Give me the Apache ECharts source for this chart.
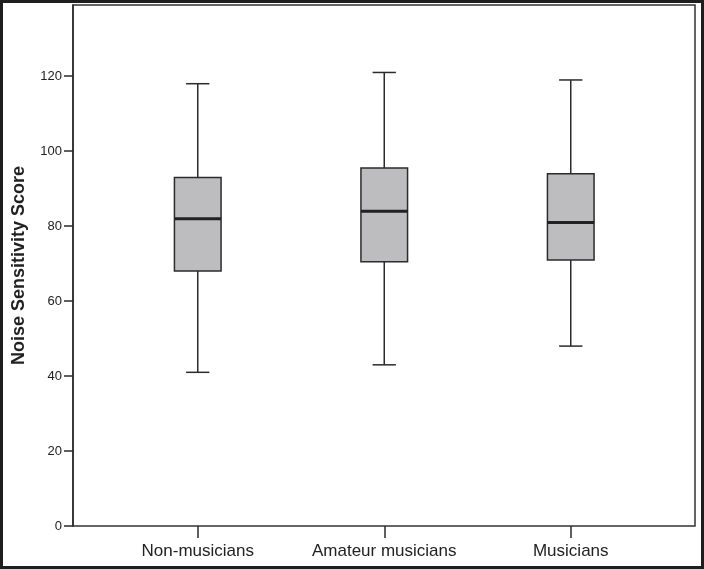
<!DOCTYPE html>
<html>
<head>
<meta charset="utf-8">
<script src="https://cdn.jsdelivr.net/npm/echarts@6/dist/echarts.min.js"></script>
<style>
html,body{margin:0;padding:0;background:#fff;}
#chart{width:704px;height:569px;}
</style>
</head>
<body>
<div id="chart"></div>
<script>
// Data
const categories = ['Non-musicians', 'Amateur musicians', 'Musicians'];
const minValues = [41, 43, 48];
const q1Values = [68, 70.5, 71];
const medianValues = [82, 84, 81];
const q3Values = [93, 95.5, 94];
const maxValues = [118, 121, 119];
const yTicks = [0, 20, 40, 60, 80, 100, 120];
const yTitle = 'Noise Sensitivity Score';

const boxData = categories.map((c, i) => [i, minValues[i], q1Values[i], medianValues[i], q3Values[i], maxValues[i]]);

const FONT = '"Liberation Sans", Arial, sans-serif';
const LINE = '#2b2b2b';

const chart = echarts.init(document.getElementById('chart'), null, {renderer: 'canvas'});

function renderBox(params, api) {
  const idx = api.value(0);
  const band = api.size([1, 0])[0];
  const boxW = band * 0.25;
  const capW = boxW / 2;
  const pMin = api.coord([idx, api.value(1)]);
  const pQ1 = api.coord([idx, api.value(2)]);
  const pMed = api.coord([idx, api.value(3)]);
  const pQ3 = api.coord([idx, api.value(4)]);
  const pMax = api.coord([idx, api.value(5)]);
  const cx = pMed[0];
  const lineStyle = {stroke: LINE, lineWidth: 1.5, fill: null};
  return {
    type: 'group',
    children: [
      {type: 'line', shape: {x1: cx, y1: pMax[1], x2: cx, y2: pQ3[1]}, style: lineStyle},
      {type: 'line', shape: {x1: cx, y1: pQ1[1], x2: cx, y2: pMin[1]}, style: lineStyle},
      {type: 'line', shape: {x1: cx - capW / 2, y1: pMax[1], x2: cx + capW / 2, y2: pMax[1]}, style: lineStyle},
      {type: 'line', shape: {x1: cx - capW / 2, y1: pMin[1], x2: cx + capW / 2, y2: pMin[1]}, style: lineStyle},
      {type: 'rect', shape: {x: cx - boxW / 2, y: pQ3[1], width: boxW, height: pQ1[1] - pQ3[1]},
        style: {fill: '#bdbdc0', stroke: LINE, lineWidth: 1.5}},
      {type: 'line', shape: {x1: cx - boxW / 2, y1: pMed[1], x2: cx + boxW / 2, y2: pMed[1]},
        style: {stroke: '#222', lineWidth: 3}}
    ]
  };
}

const option = {
  backgroundColor: '#fff',
  animation: false,
  graphic: [{
    type: 'rect', silent: true, z: 100,
    shape: {x: 1.5, y: 1.5, width: 701, height: 566},
    style: {fill: null, stroke: '#1e1e1e', lineWidth: 3}
  }],
  grid: [
    {left: 73, right: 9, top: 5, bottom: 43, show: true, borderColor: '#333', borderWidth: 1.5, backgroundColor: 'transparent'},
    {left: 104.5, right: 40, top: 5, bottom: 43}
  ],
  xAxis: [
    {gridIndex: 0, type: 'value', show: false, min: 0, max: 1},
    {gridIndex: 1, type: 'category', data: categories,
      axisLine: {show: false},
      axisTick: {show: true, alignWithLabel: true, length: 12, lineStyle: {color: LINE, width: 1.5}},
      axisLabel: {fontFamily: FONT, fontSize: 17, color: '#222', margin: 17, interval: 0},
      splitLine: {show: false}}
  ],
  yAxis: [
    {gridIndex: 0, type: 'value', min: 0, max: 139, interval: 20,
      name: yTitle, nameLocation: 'middle', nameGap: 45,
      nameTextStyle: {fontFamily: FONT, fontSize: 18, fontWeight: 'bold', color: '#222'},
      axisLine: {show: true, lineStyle: {color: LINE, width: 1.5}},
      axisTick: {show: true, length: 9, lineStyle: {color: LINE, width: 1.5},
        customValues: yTicks},
      axisLabel: {fontFamily: FONT, fontSize: 13, color: '#222', margin: 11, customValues: yTicks},
      splitLine: {show: false}},
    {gridIndex: 1, type: 'value', min: 0, max: 139, show: false}
  ],
  series: [{
    type: 'custom',
    xAxisIndex: 1, yAxisIndex: 1,
    renderItem: renderBox,
    encode: {x: 0, y: [1, 2, 3, 4, 5]},
    data: boxData
  }]
};
chart.setOption(option);
</script>
</body>
</html>
